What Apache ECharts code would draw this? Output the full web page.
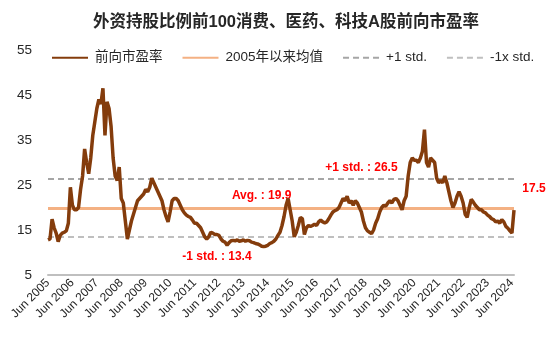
<!DOCTYPE html>
<html><head><meta charset="utf-8">
<script src="https://cdn.jsdelivr.net/npm/echarts@6/dist/echarts.min.js"></script>
<style>html,body{margin:0;padding:0;background:#fff}#c{width:550px;height:341px}</style>
</head><body><div id="c"></div>
<script>
const chartTitle = '外资持股比例前100消费、医药、科技A股前向市盈率';
const seriesNames = ['前向市盈率', '2005年以来均值', '+1 std.', '-1x std.'];
const startYear = 2005, startMonth = 6;
// monthly forward P/E, Jun 2005 .. Jul 2024
const forwardPE = [
  12.8,13.0,17.4,15.5,14.3,12.4,13.8,14.3,14.5,14.8,16.5,24.5,
  20.5,19.5,19.5,20.0,24.0,27.0,33.0,30.0,27.5,31.0,36.0,39.0,
  42.0,44.0,43.0,46.5,36.0,43.5,42.0,38.0,31.0,27.0,26.0,29.0,
  22.0,21.0,17.0,13.0,15.0,17.0,18.5,20.0,21.5,22.0,22.5,23.0,
  24.0,23.5,24.5,26.5,25.5,24.5,23.5,22.5,21.5,19.5,18.0,16.8,
  19.0,21.5,22.0,22.0,21.5,20.5,19.5,18.8,18.3,18.0,17.8,17.2,
  16.5,16.5,16.0,15.5,14.5,13.5,13.0,13.5,14.5,14.3,14.0,14.0,
  13.8,13.0,12.5,12.3,11.6,12.2,12.6,12.7,12.6,12.8,12.5,12.6,
  12.8,12.5,12.7,12.6,12.3,12.2,12.0,11.9,11.7,11.4,11.3,11.4,
  11.6,12.0,12.2,12.5,13.0,13.8,14.5,16.0,18.0,20.5,22.0,19.5,
  17.0,13.5,14.5,16.0,17.8,17.5,14.0,15.5,16.0,15.8,16.0,16.3,
  16.0,16.8,17.2,16.8,16.6,16.8,17.5,18.3,19.0,19.3,19.5,20.0,
  21.0,22.0,21.5,22.5,21.0,21.5,20.5,21.5,21.0,20.0,19.0,17.0,
  15.5,14.8,14.5,14.2,15.0,16.5,17.5,19.0,20.0,20.5,20.3,21.0,
  21.5,21.0,21.8,22.0,21.5,20.5,19.5,21.5,22.5,27.0,30.0,31.0,
  30.5,30.5,30.0,31.0,32.5,37.3,30.0,29.0,31.0,30.5,30.0,26.5,
  25.5,26.0,25.5,27.0,25.5,23.5,21.5,20.0,21.0,22.5,23.5,22.5,
  21.0,18.5,17.8,20.0,21.8,21.2,20.5,20.0,19.5,19.5,19.0,18.8,
  18.3,18.0,17.5,17.3,16.8,17.0,16.5,17.3,16.8,15.8,15.4,14.8,
  14.3,19.4
];
const avgValue = 19.9;
const plusStd = 26.5;
const minusStd = 13.4;
const latestLabel = 17.5;
const yTicks = [5, 15, 25, 35, 45, 55];

const categories = forwardPE.map((_, i) => {
  const t = startYear * 12 + (startMonth - 1) + i;
  return Math.floor(t / 12) + '-' + String(t % 12 + 1).padStart(2, '0');
});

const FONT = "Arial, 'Liberation Sans', 'Noto Sans CJK SC', sans-serif";
const BROWN = '#843C0C', ORANGE = '#F4B183', GRAY = '#A6A6A6', GRAY2 = '#BFBFBF', RED = '#FF0000';

function redLabel(text, offset) {
  return { show: true, position: 'inside', formatter: text, color: RED, fontWeight: 'bold',
           fontSize: 12, fontFamily: FONT, offset: offset || [0, 0] };
}

const chart = echarts.init(document.getElementById('c'), null, { renderer: 'canvas' });
chart.setOption({
  animation: false,
  backgroundColor: '#fff',
  title: { text: chartTitle, left: 88, top: 9,
           textStyle: { fontSize: 16.5, fontWeight: 'bold', color: '#262626', fontFamily: FONT } },
  legend: {
    data: seriesNames, left: 46, top: 46, itemWidth: 36, itemHeight: 14, itemGap: 19,
    itemStyle: { opacity: 0 },
    textStyle: { fontSize: 13.5, color: '#262626', fontFamily: FONT, padding: [0, 0, 0, 2] }
  },
  grid: { left: 48, right: 36, top: 50, bottom: 66, containLabel: false, outerBoundsMode: 'none' },
  xAxis: {
    type: 'category', data: categories, boundaryGap: false,
    axisLine: { lineStyle: { color: GRAY2, width: 2 } },
    axisTick: { show: false },
    axisLabel: {
      interval: (i, v) => v.endsWith('-06'),
      formatter: v => 'Jun ' + v.slice(0, 4),
      rotate: 45, margin: 6, fontSize: 12, color: '#262626', fontFamily: FONT
    },
    splitLine: { show: false }
  },
  yAxis: {
    type: 'value', min: 5, max: 55,
    axisLine: { show: false }, axisTick: { show: false }, splitLine: { show: false },
    axisLabel: { customValues: yTicks, fontSize: 13.5, color: '#262626', fontFamily: FONT, margin: 16 }
  },
  series: [
    {
      name: seriesNames[0], type: 'line', data: forwardPE, symbol: 'none', z: 5,
      lineStyle: { color: BROWN, width: 3.5 }, itemStyle: { color: BROWN },
      markPoint: {
        symbol: 'circle', symbolSize: 1, itemStyle: { color: 'rgba(0,0,0,0)' }, silent: true,
        data: [
          { coord: [categories[154], 28.8], label: redLabel('+1 std. : ' + plusStd) },
          { coord: [categories[105], 22.6], label: redLabel('Avg. : ' + avgValue) },
          { coord: [categories[83], 9.0], label: redLabel('-1 std. : ' + minusStd) },
          { coord: [categories[categories.length - 1], forwardPE[forwardPE.length - 1]],
            label: redLabel(String(latestLabel), [20, -22]) }
        ]
      }
    },
    {
      name: seriesNames[1], type: 'line', data: [], symbol: 'none', z: 3,
      lineStyle: { color: ORANGE, width: 3 }, itemStyle: { color: ORANGE },
      markLine: { silent: true, symbol: ['none', 'none'], label: { show: false },
                  lineStyle: { color: ORANGE, width: 3, type: 'solid' },
                  data: [{ yAxis: avgValue }] }
    },
    {
      name: seriesNames[2], type: 'line', data: [], symbol: 'none', z: 3,
      lineStyle: { color: GRAY, width: 2, type: [6, 4] }, itemStyle: { color: GRAY },
      markLine: { silent: true, symbol: ['none', 'none'], label: { show: false },
                  lineStyle: { color: GRAY, width: 2, type: [6, 4] },
                  data: [{ yAxis: plusStd }] }
    },
    {
      name: seriesNames[3], type: 'line', data: [], symbol: 'none', z: 3,
      lineStyle: { color: GRAY2, width: 2, type: [6, 4] }, itemStyle: { color: GRAY2 },
      markLine: { silent: true, symbol: ['none', 'none'], label: { show: false },
                  lineStyle: { color: GRAY2, width: 2, type: [6, 4] },
                  data: [{ yAxis: minusStd }] }
    }
  ]
});
</script></body></html>
